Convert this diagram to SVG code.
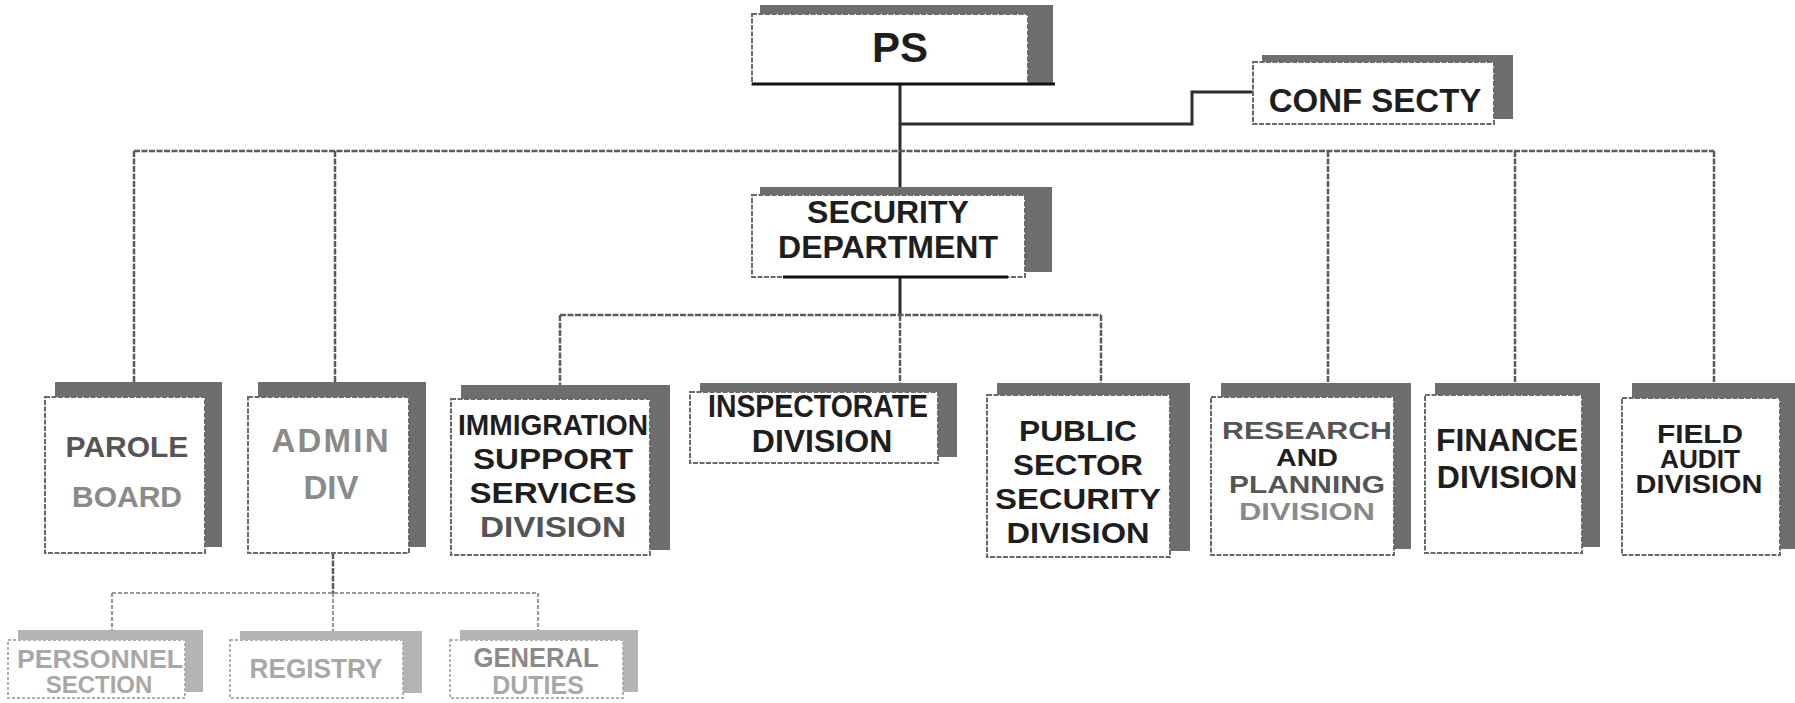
<svg xmlns="http://www.w3.org/2000/svg" width="1795" height="703" viewBox="0 0 1795 703">
<style>
.bg{fill:#ffffff}
.sh{fill:#6e6e6e}
.shl{fill:#b4b4b4}
.bx{fill:#ffffff;stroke:#6a6a6a;stroke-width:2;stroke-dasharray:5 1.5}
.bxl{fill:#ffffff;stroke:#b0b0b0;stroke-width:2;stroke-dasharray:3 2}
.t{font-family:"Liberation Sans",Arial,Helvetica,sans-serif;font-weight:bold;text-anchor:middle;fill:#1e1e1e}
.g1{fill:#555}
.g2{fill:#8a8a8a}
.g3{fill:#a8a8a8}
.c{fill:none;stroke:#5a5a5a;stroke-width:2.5;stroke-dasharray:6 1.5}
.cd{fill:none;stroke:#2e2e2e;stroke-width:3}
.cl{fill:none;stroke:#9a9a9a;stroke-width:2.2;stroke-dasharray:4 2}
.base{stroke:#111;stroke-width:3}
</style>
<rect class="bg" x="0" y="0" width="1795" height="703"/>

<g id="connectors">
  <path class="cd" d="M900 84 V195"/>
  <path class="cd" d="M900 124 H1192 V92 H1253"/>
  <path class="c" d="M134 151 H1714"/>
  <path class="c" d="M134 151 V382 M335 151 V382 M1328 151 V383 M1515 151 V383 M1714 151 V383"/>
  <path class="cd" d="M900 277 V315"/>
  <path class="c" d="M560 315 H1101 M560 315 V385 M900 315 V383 M1101 315 V383"/>
  <path class="c" d="M333 553 V593"/>
  <path class="cl" d="M112 593 H538 M112 593 V630 M333 593 V631 M538 593 V630"/>
</g>

<g id="ps">
  <rect class="sh" x="760" y="5" width="293" height="79"/>
  <rect class="bx" x="752" y="14" width="276" height="70"/>
  <line class="base" x1="752" y1="84" x2="1055" y2="84"/>
  <text class="t" x="900" y="62" font-size="42">PS</text>
</g>

<g id="conf-secty">
  <rect class="sh" x="1262" y="55" width="251" height="64"/>
  <rect class="bx" x="1253" y="62" width="241" height="62"/>
  <text class="t" x="1375" y="112" font-size="33">CONF SECTY</text>
</g>

<g id="security-department">
  <rect class="sh" x="760" y="187" width="292" height="85"/>
  <rect class="bx" x="752" y="195" width="273" height="82"/>
  <line class="base" x1="783" y1="277" x2="1008" y2="277"/>
  <text class="t" x="888" y="223" font-size="32">SECURITY</text>
  <text class="t" x="888" y="258" font-size="32">DEPARTMENT</text>
</g>

<g id="parole-board">
  <rect class="sh" x="55" y="382" width="167" height="165"/>
  <rect class="bx" x="45" y="397" width="160" height="156"/>
  <text class="t g1" x="127" y="457" font-size="30">PAROLE</text>
  <text class="t g2" x="127" y="507" font-size="30">BOARD</text>
</g>

<g id="admin-div">
  <rect class="sh" x="258" y="382" width="168" height="165"/>
  <rect class="bx" x="248" y="397" width="161" height="156"/>
  <text class="t g2" x="330" y="452" font-size="33" textLength="117" lengthAdjust="spacing">ADMIN</text>
  <text class="t g2" x="331" y="499" font-size="33">DIV</text>
</g>

<g id="immigration">
  <rect class="sh" x="461" y="385" width="209" height="165"/>
  <rect class="bx" x="451" y="399" width="199" height="156"/>
  <text class="t" x="553" y="435" font-size="30" textLength="190" lengthAdjust="spacingAndGlyphs">IMMIGRATION</text>
  <text class="t" x="553" y="469" font-size="30" textLength="160" lengthAdjust="spacingAndGlyphs">SUPPORT</text>
  <text class="t" x="553" y="503" font-size="30" textLength="167" lengthAdjust="spacingAndGlyphs">SERVICES</text>
  <text class="t g1" x="553" y="537" font-size="30" textLength="146" lengthAdjust="spacingAndGlyphs">DIVISION</text>
</g>

<g id="inspectorate">
  <rect class="sh" x="700" y="383" width="257" height="74"/>
  <rect class="bx" x="690" y="392" width="248" height="71"/>
  <text class="t" x="818" y="417" font-size="31" textLength="220" lengthAdjust="spacingAndGlyphs">INSPECTORATE</text>
  <text class="t" x="822" y="452" font-size="32">DIVISION</text>
</g>

<g id="public-sector">
  <rect class="sh" x="997" y="383" width="193" height="168"/>
  <rect class="bx" x="987" y="395" width="183" height="162"/>
  <text class="t" x="1078" y="441" font-size="30" textLength="118" lengthAdjust="spacingAndGlyphs">PUBLIC</text>
  <text class="t" x="1078" y="475" font-size="30" textLength="130" lengthAdjust="spacingAndGlyphs">SECTOR</text>
  <text class="t" x="1078" y="509" font-size="30" textLength="166" lengthAdjust="spacingAndGlyphs">SECURITY</text>
  <text class="t" x="1078" y="543" font-size="30" textLength="143" lengthAdjust="spacingAndGlyphs">DIVISION</text>
</g>

<g id="research">
  <rect class="sh" x="1221" y="383" width="190" height="166"/>
  <rect class="bx" x="1211" y="397" width="183" height="158"/>
  <text class="t g1" x="1307" y="439" font-size="24" textLength="170" lengthAdjust="spacingAndGlyphs">RESEARCH</text>
  <text class="t" x="1307" y="466" font-size="24" textLength="62" lengthAdjust="spacingAndGlyphs">AND</text>
  <text class="t g1" x="1307" y="493" font-size="24" textLength="156" lengthAdjust="spacingAndGlyphs">PLANNING</text>
  <text class="t g2" x="1307" y="520" font-size="24" textLength="136" lengthAdjust="spacingAndGlyphs">DIVISION</text>
</g>

<g id="finance">
  <rect class="sh" x="1435" y="383" width="165" height="164"/>
  <rect class="bx" x="1425" y="395" width="157" height="158"/>
  <text class="t" x="1507" y="451" font-size="32">FINANCE</text>
  <text class="t" x="1507" y="488" font-size="32">DIVISION</text>
</g>

<g id="field-audit">
  <rect class="sh" x="1632" y="383" width="163" height="166"/>
  <rect class="bx" x="1622" y="398" width="158" height="157"/>
  <text class="t" x="1700" y="443" font-size="25" textLength="86" lengthAdjust="spacingAndGlyphs">FIELD</text>
  <text class="t" x="1700" y="468" font-size="25" textLength="80" lengthAdjust="spacingAndGlyphs">AUDIT</text>
  <text class="t" x="1699" y="493" font-size="25" textLength="127" lengthAdjust="spacingAndGlyphs">DIVISION</text>
</g>

<g id="personnel-section">
  <rect class="shl" x="18" y="630" width="185" height="62"/>
  <rect class="bxl" x="8" y="640" width="177" height="58"/>
  <text class="t g3" x="100" y="668" font-size="26" textLength="166" lengthAdjust="spacingAndGlyphs">PERSONNEL</text>
  <text class="t g3" x="99" y="693" font-size="24">SECTION</text>
</g>

<g id="registry">
  <rect class="shl" x="240" y="631" width="182" height="62"/>
  <rect class="bxl" x="230" y="640" width="173" height="58"/>
  <text class="t g3" x="316" y="678" font-size="28" textLength="133" lengthAdjust="spacingAndGlyphs">REGISTRY</text>
</g>

<g id="general-duties">
  <rect class="shl" x="460" y="630" width="178" height="62"/>
  <rect class="bxl" x="450" y="640" width="173" height="58"/>
  <text class="t g2" x="536" y="667" font-size="27" textLength="125" lengthAdjust="spacingAndGlyphs">GENERAL</text>
  <text class="t g3" x="538" y="694" font-size="25">DUTIES</text>
</g>
</svg>
